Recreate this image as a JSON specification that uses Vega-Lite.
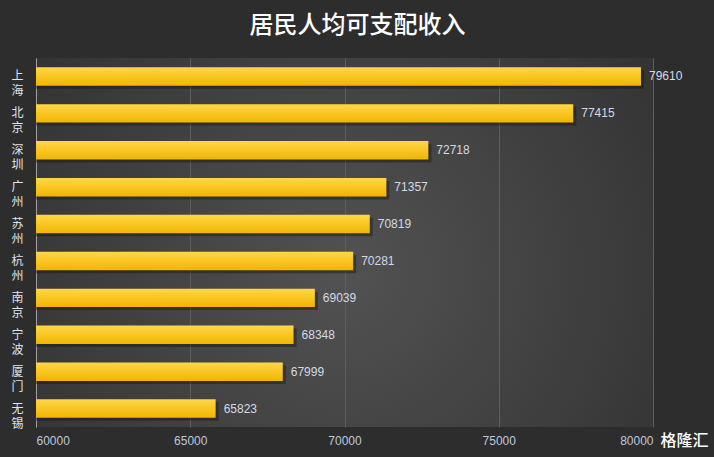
{
  "$schema": "https://vega.github.io/schema/vega-lite/v6.json",
  "width": 617,
  "height": 369,
  "autosize": {"type": "none"},
  "padding": {"left": 36, "top": 58, "right": 61, "bottom": 30},
  "background": "#2d2d2d",
  "title": {
    "text": "居民人均可支配收入",
    "anchor": "middle",
    "dx": 13,
    "offset": 20,
    "font": "Noto Sans CJK SC",
    "fontSize": 24,
    "fontWeight": 500,
    "color": "#ffffff"
  },
  "config": {
    "view": {
      "stroke": null,
      "fill": {
        "gradient": "radial",
        "x1": 0.5, "y1": 0.55, "r1": 0,
        "x2": 0.5, "y2": 0.55, "r2": 0.8,
        "stops": [
          {"offset": 0, "color": "#525252"},
          {"offset": 1, "color": "#2a2a2a"}
        ]
      }
    },
    "font": "Noto Sans CJK SC"
  },
  "data": {
    "values": [
      {"city": "上海", "income": 79610},
      {"city": "北京", "income": 77415},
      {"city": "深圳", "income": 72718},
      {"city": "广州", "income": 71357},
      {"city": "苏州", "income": 70819},
      {"city": "杭州", "income": 70281},
      {"city": "南京", "income": 69039},
      {"city": "宁波", "income": 68348},
      {"city": "厦门", "income": 67999},
      {"city": "无锡", "income": 65823}
    ]
  },
  "encoding": {
    "y": {
      "field": "city",
      "type": "nominal",
      "sort": null,
      "scale": {"paddingInner": 0.5, "paddingOuter": 0.25},
      "axis": {
        "title": null,
        "ticks": false,
        "domain": true,
        "domainColor": "#a0a0a0",
        "labelExpr": "split(datum.label, '')",
        "labelAlign": "center",
        "labelPadding": 19,
        "labelFontSize": 12,
        "labelLineHeight": 15,
        "labelColor": "#dfe4ee",
        "labelFont": "Noto Sans CJK SC"
      }
    },
    "x": {
      "field": "income",
      "type": "quantitative",
      "scale": {"domain": [60000, 80000], "nice": false, "zero": false},
      "axis": {
        "values": [60000, 65000, 70000, 75000, 80000],
        "format": "d",
        "domain": false,
        "ticks": false,
        "grid": true,
        "gridColor": "#5e5e5e",
        "gridWidth": 1,
        "labelColor": "#bcc8dc",
        "labelFontSize": 12,
        "labelPadding": 8,
        "labelFont": "Liberation Sans",
        "title": "格隆汇",
        "titleColor": "#ffffff",
        "titleFontSize": 16,
        "titleFontWeight": 500,
        "titleAlign": "left",
        "titleAnchor": null,
        "titleX": 624,
        "titleY": 13,
        "titleBaseline": "middle"
      }
    }
  },
  "layer": [
    {
      "mark": {"type": "bar", "color": "#111111", "opacity": 0.4, "yOffset": 3, "xOffset": 3},
      "encoding": {"x2": {"datum": 60000}}
    },
    {
      "mark": {
        "type": "bar",
        "color": {
          "gradient": "linear",
          "x1": 0, "y1": 0, "x2": 0, "y2": 1,
          "stops": [
            {"offset": 0, "color": "#ffd748"},
            {"offset": 1, "color": "#f2b500"}
          ]
        }
      },
      "encoding": {"x2": {"datum": 60000}}
    },
    {
      "mark": {"type": "text", "align": "left", "baseline": "middle", "dx": 8, "fontSize": 12, "color": "#d2d9e6", "font": "Liberation Sans"},
      "encoding": {"text": {"field": "income", "type": "quantitative", "format": "d"}}
    }
  ]
}
